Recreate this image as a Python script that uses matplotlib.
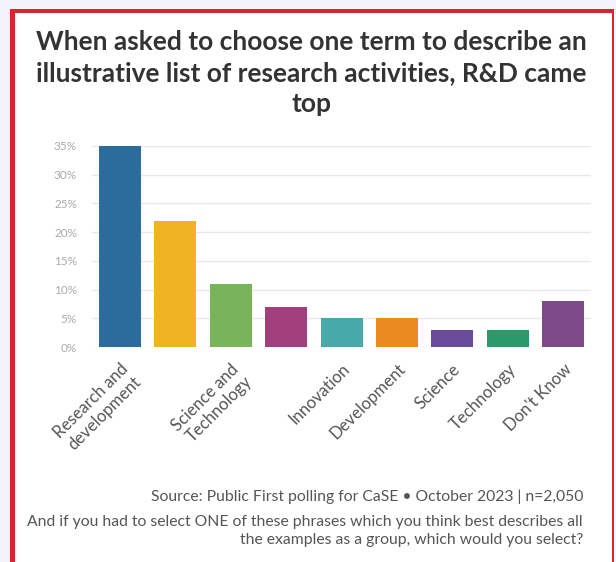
import matplotlib.pyplot as plt
from matplotlib.patches import Rectangle

# ---- Data ----
categories = ["Research and\ndevelopment", "", "Science and\nTechnology", "",
              "Innovation", "Development", "Science", "Technology", "Don't Know"]
values = [35, 22, 11, 7, 5, 5, 3, 3, 8]
colors = ["#2b6c9c", "#f0b323", "#78b45a", "#a23f7c", "#46aaa8",
          "#ec8a22", "#6a4c9c", "#2a9a6b", "#7d4a87"]
yticks = [0, 5, 10, 15, 20, 25, 30, 35]

W, H = 616, 562
fig = plt.figure(figsize=(W / 100, H / 100), dpi=100)
fig.patch.set_facecolor("#f3f3fb")

# ---- Card with red border ----
def px_rect(x0, y0, x1, y1, color):
    fig.patches.append(Rectangle((x0 / W, 1 - y1 / H), (x1 - x0) / W, (y1 - y0) / H,
                                 transform=fig.transFigure, facecolor=color,
                                 edgecolor="none", zorder=-10))

px_rect(10, 9, 614, 570, "white")
px_rect(10, 9, 15, 570, "#d9262e")
px_rect(10, 9, 614, 13, "#d9262e")
px_rect(612, 9, 614, 570, "#d9262e")

# ---- Title ----
fig.text(0.505, 1 - 73 / H,
         "When asked to choose one term to describe an\nillustrative list of research activities, R&D came\ntop",
         ha="center", va="center", fontsize=19, fontweight="bold", color="#333333",
         family="Lato", linespacing=1.33)

# ---- Bars ----
ax = fig.add_axes([92.3 / W, 1 - 347 / H, 498.6 / W, 201 / H])
ax.set_facecolor("none")
x = range(len(values))
ax.bar(x, values, width=0.76, color=colors, zorder=3)

ax.set_xlim(-0.5, len(values) - 0.5)
ax.set_ylim(0, 35)
ax.set_yticks(yticks)
ax.set_yticklabels([f"{v}%" for v in yticks], fontsize=8.5, color="#aaaaaa",
                   family="Lato")
ax.yaxis.grid(True, color="#e8e8e8", linewidth=1, zorder=0)
ax.tick_params(axis="y", length=0, pad=11)
ax.tick_params(axis="x", length=0, pad=10)

ax.set_xticks(list(x))
ax.set_xticklabels(categories, rotation=45, ha="right", va="top",
                   rotation_mode="anchor", fontsize=12, color="#555555",
                   family="Lato", linespacing=1.15)
for lab in ax.get_xticklabels():
    lab.set_x(lab.get_position()[0])
for s in ax.spines.values():
    s.set_visible(False)

# ---- Footer ----
fig.text(583 / W, 1 - 497 / H, "Source: Public First polling for CaSE \u2022 October 2023 | n=2,050",
         ha="right", va="center", fontsize=11.3, color="#555555", family="Lato")
fig.text(583 / W, 1 - 531 / H,
         "And if you had to select ONE of these phrases which you think best describes all\n"
         "the examples as a group, which would you select?",
         ha="right", va="center", fontsize=11.3, color="#555555", family="Lato",
         multialignment="right", linespacing=1.45)

fig.savefig("out.png", dpi=100, facecolor=fig.get_facecolor())
